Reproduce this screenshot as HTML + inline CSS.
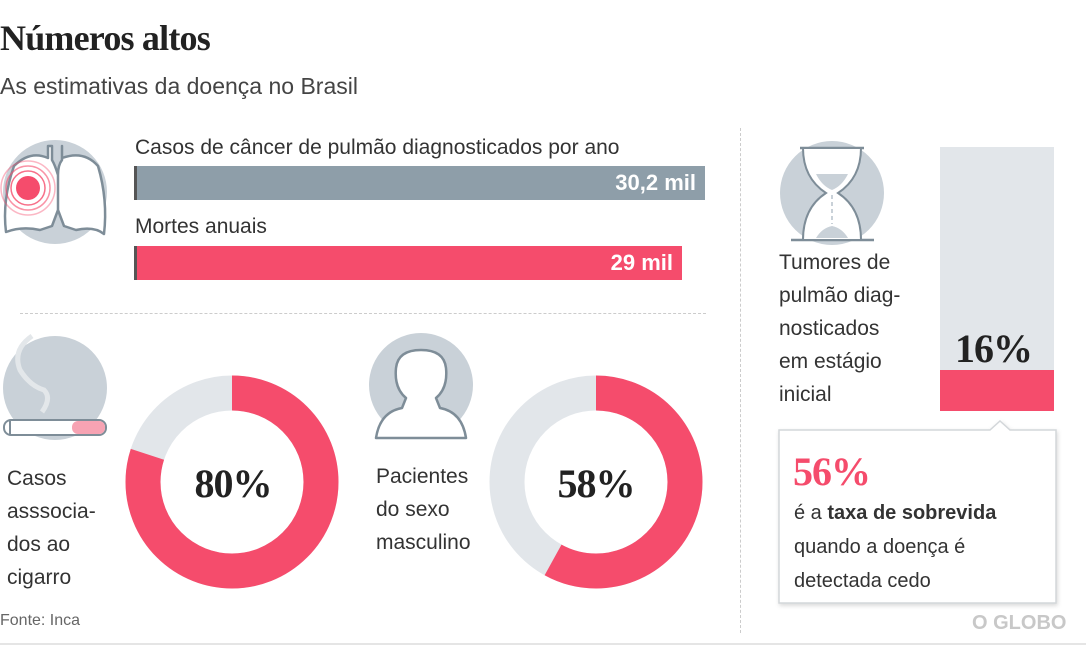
<!DOCTYPE html>
<html><head><meta charset="utf-8"><style>
body{margin:0;width:1086px;height:652px;background:#fff;overflow:hidden;font-family:"Liberation Sans",sans-serif;color:#333}
.a{position:absolute}
</style></head><body>
<div class="a" style="left:0;top:17px;font:bold 36px 'Liberation Serif',serif;color:#222;letter-spacing:-0.8px">Números altos</div>
<div class="a" style="left:0;top:73px;font-size:23px;color:#444">As estimativas da doença no Brasil</div>
<div class="a" style="left:135px;top:136px;font-size:21px;color:#333">Casos de câncer de pulmão diagnosticados por ano</div>
<div class="a" style="left:134px;top:166px;width:571px;height:34px;background:#8e9ea9;border-left:3px solid #555;box-sizing:border-box"></div>
<div class="a" style="left:560px;top:170px;width:136px;text-align:right;font:bold 22px 'Liberation Sans',sans-serif;color:#fff">30,2 mil</div>
<div class="a" style="left:135px;top:215px;font-size:21px;color:#333">Mortes anuais</div>
<div class="a" style="left:134px;top:246px;width:548px;height:34px;background:#f54c6c;border-left:3px solid #555;box-sizing:border-box"></div>
<div class="a" style="left:540px;top:250px;width:133px;text-align:right;font:bold 22px 'Liberation Sans',sans-serif;color:#fff">29 mil</div>
<div class="a" style="left:20px;top:313px;width:686px;border-top:1px dashed #ccc"></div>
<div class="a" style="left:740px;top:128px;height:505px;border-left:1px dashed #ccc"></div>
<svg class="a" style="left:0;top:0" width="1086" height="652">
 <circle cx="55" cy="192" r="52" fill="#c9d1d8"/>
 <path d="M48 146 L48 158 Q30 150 14 166 Q2 200 6 232 Q22 226 40 230 L52 226 L58 210 L58 175 Q55 165 52 160 L52 146 Z M62 146 L62 160 Q58 165 58 175 L58 210 L64 226 L76 230 Q94 226 104 234 Q108 200 98 166 Q84 150 62 158 Z" fill="#fff" stroke="#7e8d98" stroke-width="2.5" stroke-linejoin="round"/>
 <circle cx="28" cy="188" r="12" fill="#f54c6c"/>
 <circle cx="28" cy="188" r="17" fill="none" stroke="#f54c6c" stroke-width="1.5" opacity=".8"/>
 <circle cx="28" cy="188" r="22" fill="none" stroke="#f54c6c" stroke-width="1.5" opacity=".6"/>
 <circle cx="28" cy="188" r="27" fill="none" stroke="#f54c6c" stroke-width="1.5" opacity=".4"/>
 <circle cx="55" cy="388" r="52" fill="#c9d1d8"/>
 <path d="M32 336 Q12 350 20 370 Q30 386 44 390 Q52 398 42 412" fill="none" stroke="#e3e7ea" stroke-width="5"/>
 <rect x="4" y="420" width="102" height="15" rx="7" fill="#fff" stroke="#7e8d98" stroke-width="2"/>
 <rect x="72" y="421" width="33" height="13" rx="6" fill="#f7a3b3"/>
 <line x1="10" y1="421" x2="10" y2="434" stroke="#7e8d98" stroke-width="2"/>
 <circle cx="421" cy="385" r="52" fill="#c9d1d8"/>
 <path d="M376 438 Q380 412 402 408 L406 398 Q394 388 396 368 Q398 350 421 350 Q444 350 446 368 Q448 388 436 398 L440 408 Q462 412 466 438 Z" fill="#fff" stroke="#7e8d98" stroke-width="2.5" stroke-linejoin="round"/>
 <circle cx="832" cy="193" r="52" fill="#c9d1d8"/>
 <line x1="800" y1="148" x2="864" y2="148" stroke="#7e8d98" stroke-width="2.5"/>
 <line x1="791" y1="240" x2="874" y2="240" stroke="#7e8d98" stroke-width="2.5"/>
 <path d="M803 148 Q803 178 826 193 Q803 208 803 240 L861 240 Q861 208 838 193 Q861 178 861 148 Z" fill="#fff" stroke="#7e8d98" stroke-width="2"/>
 <path d="M816 174 L848 174 Q842 186 832 190 Q822 186 816 174 Z" fill="#c9d1d8"/>
 <path d="M816 238 Q822 228 832 226 Q842 228 848 238 Z" fill="#c9d1d8"/>
 <line x1="832" y1="195" x2="832" y2="224" stroke="#c9d1d8" stroke-width="2" stroke-dasharray="4 3"/>
 <circle cx="232" cy="482" r="89" fill="none" stroke="#e2e6ea" stroke-width="35"/>
 <circle cx="232" cy="482" r="89" fill="none" stroke="#f54c6c" stroke-width="35" stroke-dasharray="447.4 1000" transform="rotate(-90 232 482)"/>
 <circle cx="596" cy="482" r="89" fill="none" stroke="#e2e6ea" stroke-width="35"/>
 <circle cx="596" cy="482" r="89" fill="none" stroke="#f54c6c" stroke-width="35" stroke-dasharray="324.3 1000" transform="rotate(-90 596 482)"/>
 <rect x="940" y="147" width="114" height="223" fill="#e2e6ea"/>
 <rect x="940" y="370" width="114" height="41" fill="#f54c6c"/>
 <path d="M779 430 L990 430 L1000 421 L1010 430 L1056 430 L1056 603 L779 603 Z" fill="#fff" stroke="#d3d7da" stroke-width="1.5" style="filter:drop-shadow(1px 2px 2px rgba(0,0,0,.15))"/>
 <line x1="0" y1="644" x2="1086" y2="644" stroke="#e5e5e5" stroke-width="2"/>
</svg>
<div class="a" style="left:187px;top:460px;width:92px;text-align:center;font:bold 40px 'Liberation Serif',serif;color:#222;letter-spacing:-1px">80%</div>
<div class="a" style="left:550px;top:460px;width:92px;text-align:center;font:bold 40px 'Liberation Serif',serif;color:#222;letter-spacing:-1px">58%</div>
<div class="a" style="left:7px;top:462px;font-size:21px;line-height:33px;color:#333">Casos<br>asssocia-<br>dos ao<br>cigarro</div>
<div class="a" style="left:376px;top:460px;font-size:21px;line-height:33px;color:#333">Pacientes<br>do sexo<br>masculino</div>
<div class="a" style="left:779px;top:246px;font-size:21px;line-height:33px;color:#333">Tumores de<br>pulmão diag-<br>nosticados<br>em estágio<br>inicial</div>
<div class="a" style="left:955px;top:325px;font:bold 40px 'Liberation Serif',serif;color:#222;letter-spacing:-1px">16%</div>
<div class="a" style="left:793px;top:448px;font:bold 40px 'Liberation Serif',serif;color:#f54c6c;letter-spacing:-1px">56%</div>
<div class="a" style="left:794px;top:496px;font-size:20px;line-height:34px;color:#333">é a <b>taxa de sobrevida</b><br>quando a doença é<br>detectada cedo</div>
<div class="a" style="left:0;top:612px;font-size:16px;color:#666">Fonte: Inca</div>
<div class="a" style="left:972px;top:612px;font:bold 20px 'Liberation Sans',sans-serif;color:#c8c8c8">O GLOBO</div>
</body></html>
